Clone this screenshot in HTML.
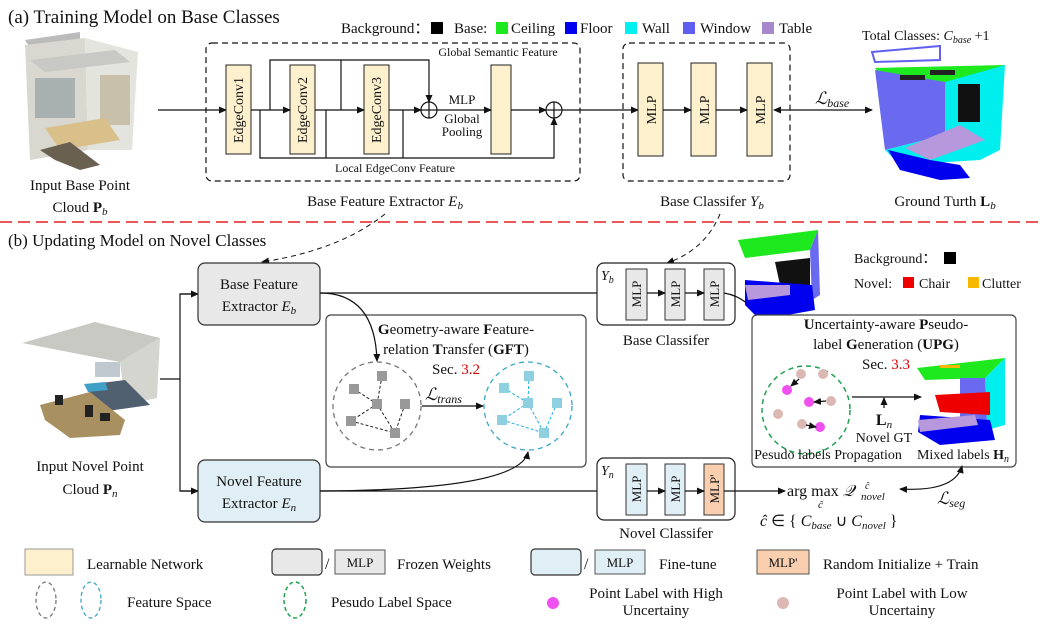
<!DOCTYPE html>
<html><head><meta charset="utf-8"><style>
html,body{margin:0;padding:0;background:#fff}
svg{display:block}
text{font-family:"Liberation Serif",serif;fill:#111}
</style></head><body>
<svg width="1040" height="624" viewBox="0 0 1040 624" xmlns="http://www.w3.org/2000/svg">
<defs>
<marker id="a" markerWidth="8" markerHeight="8" refX="7" refY="4" orient="auto" markerUnits="userSpaceOnUse"><path d="M0,0.5 L8,4 L0,7.5 Z" fill="#111"/></marker>
<marker id="as" markerWidth="8" markerHeight="8" refX="1" refY="4" orient="auto" markerUnits="userSpaceOnUse"><path d="M8,0.5 L0,4 L8,7.5 Z" fill="#111"/></marker>
</defs>

<!-- (a) -->
<text x="8" y="23" font-size="19">(a) Training Model on Base Classes</text>
<g font-size="15">
<text x="341" y="33">Background：</text><rect x="431" y="22" width="12" height="12" fill="#000"/>
<text x="454" y="33">Base:</text><rect x="496" y="22" width="12" height="12" fill="#1ee81e"/>
<text x="511" y="33">Ceiling</text><rect x="565" y="22" width="12" height="12" fill="#0000ee"/>
<text x="580" y="33">Floor</text><rect x="625" y="22" width="12" height="12" fill="#00f0f0"/>
<text x="642" y="33">Wall</text><rect x="683" y="22" width="12" height="12" fill="#6060f0"/>
<text x="700" y="33">Window</text><rect x="762" y="22" width="12" height="12" fill="#a888cc"/>
<text x="779" y="33">Table</text>
</g>

<!-- left point cloud (a) -->
<g>
<polygon points="25,40 80,32 80,40 30,48" fill="#bbb"/>
<polygon points="25,45 85,38 88,150 30,160" fill="#d8d8d0"/>
<polygon points="85,38 138,52 132,150 88,150" fill="#e4e4de"/>
<polygon points="30,60 115,50 130,62 45,72" fill="#c8c8c4"/>
<rect x="35" y="78" width="40" height="40" fill="#a8b0b0"/>
<rect x="100" y="75" width="30" height="50" fill="#c8c0a8"/>
<polygon points="45,128 105,118 120,140 60,150" fill="#d9c08a"/>
<polygon points="40,150 70,142 100,165 80,170 55,160" fill="#6a6050"/>
</g>
<text x="80" y="190" font-size="15" text-anchor="middle">Input Base Point</text>
<text x="80" y="212" font-size="15" text-anchor="middle">Cloud <tspan font-weight="bold">P</tspan><tspan font-size="11" font-style="italic" dy="3">b</tspan></text>
<line x1="158" y1="110" x2="226" y2="110" stroke="#111" stroke-width="1.2" marker-end="url(#a)"/>

<rect x="206" y="43" width="374" height="138" rx="6" fill="none" stroke="#111" stroke-dasharray="6,4" stroke-width="1.2"/>
<g fill="#fdf0cc" stroke="#222" stroke-width="1">
<rect x="226" y="65" width="25" height="89"/>
<rect x="290" y="65" width="25" height="89"/>
<rect x="364" y="65" width="25" height="89"/>
<rect x="491" y="65" width="20" height="89"/>
</g>
<g font-size="14">
<text transform="translate(243,110) rotate(-90)" text-anchor="middle">EdgeConv1</text>
<text transform="translate(307,110) rotate(-90)" text-anchor="middle">EdgeConv2</text>
<text transform="translate(381,110) rotate(-90)" text-anchor="middle">EdgeConv3</text>
</g>
<g stroke="#111" stroke-width="1.2" fill="none">
<line x1="251" y1="110" x2="290" y2="110" marker-end="url(#a)"/>
<line x1="315" y1="110" x2="364" y2="110" marker-end="url(#a)"/>
<line x1="389" y1="110" x2="421" y2="110" marker-end="url(#a)"/>
<circle cx="429" cy="110" r="8"/><line x1="421" y1="110" x2="437" y2="110"/><line x1="429" y1="102" x2="429" y2="118"/>
<line x1="437" y1="110" x2="491" y2="110" marker-end="url(#a)"/>
<line x1="511" y1="110" x2="546" y2="110" marker-end="url(#a)"/>
<circle cx="554" cy="110" r="8"/><line x1="546" y1="110" x2="562" y2="110"/><line x1="554" y1="102" x2="554" y2="118"/>
<polyline points="270,110 270,60 429,60 429,102" marker-end="url(#a)"/>
<line x1="341" y1="60" x2="341" y2="110"/>
<polyline points="260,110 260,158 554,158 554,118" marker-end="url(#a)"/>
<line x1="326" y1="110" x2="326" y2="158"/>
<line x1="403" y1="110" x2="403" y2="158"/>
<line x1="562" y1="110" x2="638" y2="110" marker-end="url(#a)"/>
</g>
<text x="498" y="56" font-size="12" text-anchor="middle">Global Semantic Feature</text>
<text x="462" y="104" font-size="13" text-anchor="middle">MLP</text>
<text x="462" y="123" font-size="13" text-anchor="middle">Global</text>
<text x="462" y="136" font-size="13" text-anchor="middle">Pooling</text>
<text x="395" y="172" font-size="12" text-anchor="middle">Local EdgeConv Feature</text>
<text x="385" y="206" font-size="15" text-anchor="middle">Base Feature Extractor <tspan font-style="italic">E</tspan><tspan font-size="11" font-style="italic" dy="3">b</tspan></text>

<rect x="623" y="43" width="167" height="138" rx="6" fill="none" stroke="#111" stroke-dasharray="6,4" stroke-width="1.2"/>
<g fill="#fdf0cc" stroke="#222"><rect x="638" y="63" width="25" height="93"/><rect x="691" y="63" width="25" height="93"/><rect x="747" y="63" width="25" height="93"/></g>
<g font-size="14"><text transform="translate(656,110) rotate(-90)" text-anchor="middle">MLP</text><text transform="translate(709,110) rotate(-90)" text-anchor="middle">MLP</text><text transform="translate(765,110) rotate(-90)" text-anchor="middle">MLP</text></g>
<g stroke="#111" stroke-width="1.2"><line x1="663" y1="110" x2="691" y2="110" marker-end="url(#a)"/><line x1="716" y1="110" x2="747" y2="110" marker-end="url(#a)"/>
<line x1="774" y1="110" x2="872" y2="110" marker-start="url(#as)" marker-end="url(#a)"/></g>
<text x="815" y="104" font-size="17" font-style="italic">ℒ<tspan font-size="12" dy="3">base</tspan></text>
<text x="712" y="206" font-size="15" text-anchor="middle">Base Classifer <tspan font-style="italic">Y</tspan><tspan font-size="11" font-style="italic" dy="3">b</tspan></text>
<text x="862" y="40" font-size="14">Total Classes: <tspan font-style="italic">C</tspan><tspan font-size="10" font-style="italic" dy="3">base</tspan><tspan dy="-3"> +1</tspan></text>
<!-- right GT cloud -->
<g>
<polygon points="872,52 940,46 940,60 875,62" fill="none" stroke="#6060f0" stroke-width="2"/>
<polygon points="875,68 1005,65 975,85 885,82" fill="#1ee81e"/>
<polygon points="875,70 945,82 945,135 885,150" fill="#6a6af0"/>
<polygon points="945,82 1005,65 1000,150 945,145" fill="#00eeee"/>
<rect x="958" y="84" width="22" height="38" fill="#111"/>
<polygon points="885,150 945,135 1000,150 980,160 900,165" fill="#00eeee"/>
<polygon points="905,148 960,125 985,140 930,160" fill="#b898dc"/>
<polygon points="888,150 930,160 960,165 970,178 940,180 900,170" fill="#0000ee"/>
<rect x="900" y="75" width="25" height="5" fill="#222"/><rect x="930" y="70" width="25" height="5" fill="#222"/>
</g>
<text x="945" y="206" font-size="15" text-anchor="middle">Ground Turth <tspan font-weight="bold">L</tspan><tspan font-size="11" font-style="italic" dy="3">b</tspan></text>

<line x1="0" y1="222" x2="1040" y2="222" stroke="#e02020" stroke-width="1.5" stroke-dasharray="12,6"/>

<!-- (b) -->
<text x="8" y="246" font-size="17">(b) Updating Model on Novel Classes</text>
<g fill="none" stroke="#111" stroke-width="1" stroke-dasharray="5,4">
<path d="M385,214 Q340,250 262,262" marker-end="url(#a)"/>
<path d="M720,214 Q705,250 667,263" marker-end="url(#a)"/>
</g>

<!-- left novel cloud -->
<g>
<polygon points="22,343 95,322 160,338 120,362" fill="#c9c9c4"/>
<polygon points="120,362 160,338 157,398 125,405" fill="#d5d5d0"/>
<rect x="95" y="362" width="25" height="15" fill="#c0c8d0"/>
<polygon points="85,385 125,380 150,405 100,412" fill="#506070"/>
<polygon points="84,384 105,382 108,390 88,392" fill="#40a0c8"/>
<polygon points="40,405 90,392 125,420 120,435 70,438 45,420" fill="#a89060"/>
<rect x="55" y="395" width="8" height="10" fill="#222"/><rect x="85" y="405" width="8" height="12" fill="#222"/><rect x="100" y="413" width="10" height="8" fill="#222"/>
</g>
<text x="90" y="471" font-size="15" text-anchor="middle">Input Novel Point</text>
<text x="90" y="494" font-size="15" text-anchor="middle">Cloud <tspan font-weight="bold">P</tspan><tspan font-size="11" font-style="italic" dy="3">n</tspan></text>
<g stroke="#111" stroke-width="1.2" fill="none">
<line x1="160" y1="379" x2="180" y2="379"/>
<polyline points="198,294 180,294 180,491 198,491"/>
<line x1="180" y1="294" x2="198" y2="294" marker-end="url(#a)"/>
<line x1="180" y1="491" x2="198" y2="491" marker-end="url(#a)"/>
</g>

<rect x="198" y="263" width="122" height="62" rx="7" fill="#e8e8e8" stroke="#333" stroke-width="1.2"/>
<text x="259" y="289" font-size="15" text-anchor="middle">Base Feature</text>
<text x="259" y="311" font-size="15" text-anchor="middle">Extractor <tspan font-style="italic">E</tspan><tspan font-size="11" font-style="italic" dy="3">b</tspan></text>
<rect x="198" y="460" width="122" height="62" rx="7" fill="#dfeff5" stroke="#333" stroke-width="1.2"/>
<text x="259" y="486" font-size="15" text-anchor="middle">Novel Feature</text>
<text x="259" y="508" font-size="15" text-anchor="middle">Extractor <tspan font-style="italic">E</tspan><tspan font-size="11" font-style="italic" dy="3">n</tspan></text>

<!-- GFT -->
<rect x="326" y="315" width="260" height="152" rx="5" fill="#fff" stroke="#444" stroke-width="1.2"/>
<g stroke="#111" stroke-width="1.2" fill="none">
<line x1="320" y1="293" x2="625" y2="293" marker-end="url(#a)"/>
<path d="M320,293 Q375,293 377,361" marker-end="url(#a)"/>
<line x1="320" y1="491" x2="625" y2="491" marker-end="url(#a)"/>
<path d="M320,491 Q520,490 528,452" marker-end="url(#a)"/>
</g>
<text x="456" y="334" font-size="15" text-anchor="middle"><tspan font-weight="bold">G</tspan>eometry-aware <tspan font-weight="bold">F</tspan>eature-</text>
<text x="456" y="354" font-size="15" text-anchor="middle">relation <tspan font-weight="bold">T</tspan>ransfer (<tspan font-weight="bold">GFT</tspan>)</text>
<text x="456" y="374" font-size="15" text-anchor="middle">Sec. <tspan fill="#e00000">3.2</tspan></text>
<circle cx="377" cy="406" r="44" fill="none" stroke="#777" stroke-width="1.3" stroke-dasharray="5,4"/>
<circle cx="528" cy="406" r="44" fill="none" stroke="#38a8c8" stroke-width="1.3" stroke-dasharray="5,4"/>
<g stroke="#222" stroke-dasharray="3,2" stroke-width="1">
<line x1="382" y1="376" x2="377" y2="404"/><line x1="354" y1="389" x2="377" y2="404"/><line x1="377" y1="404" x2="351" y2="421"/><line x1="377" y1="404" x2="395" y2="433"/><line x1="405" y1="404" x2="395" y2="433"/><line x1="351" y1="421" x2="395" y2="433"/>
</g>
<g fill="#999"><rect x="377" y="371" width="10" height="10"/><rect x="349" y="384" width="10" height="10"/><rect x="372" y="399" width="10" height="10"/><rect x="400" y="399" width="10" height="10"/><rect x="346" y="416" width="10" height="10"/><rect x="390" y="428" width="10" height="10"/></g>
<g stroke="#20b0e0" stroke-dasharray="3,2" stroke-width="1">
<line x1="529" y1="376" x2="528" y2="403"/><line x1="504" y1="388" x2="528" y2="403"/><line x1="528" y1="403" x2="502" y2="420"/><line x1="528" y1="403" x2="544" y2="433"/><line x1="557" y1="403" x2="544" y2="433"/><line x1="502" y1="420" x2="544" y2="433"/>
</g>
<g fill="#8ecfe0"><rect x="524" y="371" width="10" height="10"/><rect x="499" y="383" width="10" height="10"/><rect x="523" y="398" width="10" height="10"/><rect x="552" y="398" width="10" height="10"/><rect x="497" y="415" width="10" height="10"/><rect x="539" y="428" width="10" height="10"/></g>
<line x1="422" y1="406" x2="483" y2="406" stroke="#111" stroke-width="1.2" marker-end="url(#a)"/>
<text x="425" y="400" font-size="17" font-style="italic">ℒ<tspan font-size="12" dy="3">trans</tspan></text>

<!-- classifiers (b) -->
<rect x="597" y="263" width="138" height="62" rx="7" fill="#fff" stroke="#222" stroke-width="1.2"/>
<text x="601" y="280" font-size="14" font-style="italic">Y<tspan font-size="10" dy="3">b</tspan></text>
<g fill="#e8e8e8" stroke="#333"><rect x="626" y="269" width="21" height="51"/><rect x="665" y="269" width="20" height="51"/><rect x="704" y="269" width="20" height="51"/></g>
<rect x="597" y="458" width="138" height="62" rx="7" fill="#fff" stroke="#222" stroke-width="1.2"/>
<text x="601" y="475" font-size="14" font-style="italic">Y<tspan font-size="10" dy="3">n</tspan></text>
<g stroke="#333"><rect x="626" y="464" width="21" height="51" fill="#dfeff5"/><rect x="665" y="464" width="20" height="51" fill="#dfeff5"/><rect x="704" y="464" width="20" height="51" fill="#f9cfb0"/></g>
<g font-size="13">
<text transform="translate(641,294) rotate(-90)" text-anchor="middle">MLP</text><text transform="translate(680,294) rotate(-90)" text-anchor="middle">MLP</text><text transform="translate(719,294) rotate(-90)" text-anchor="middle">MLP</text>
<text transform="translate(641,489) rotate(-90)" text-anchor="middle">MLP</text><text transform="translate(680,489) rotate(-90)" text-anchor="middle">MLP</text><text transform="translate(719,489) rotate(-90)" text-anchor="middle">MLP'</text>
</g>
<g stroke="#111" stroke-width="1.2" fill="none">
<line x1="647" y1="293" x2="665" y2="293" marker-end="url(#a)"/><line x1="685" y1="293" x2="704" y2="293" marker-end="url(#a)"/>
<line x1="647" y1="491" x2="665" y2="491" marker-end="url(#a)"/><line x1="685" y1="491" x2="704" y2="491" marker-end="url(#a)"/>
<path d="M724,293 Q765,300 774,363" marker-end="url(#a)"/>
<line x1="724" y1="491" x2="785" y2="491" marker-end="url(#a)"/>
</g>
<text x="666" y="345" font-size="15" text-anchor="middle">Base Classifer</text>
<text x="666" y="538" font-size="15" text-anchor="middle">Novel Classifer</text>

<!-- top-right cloud -->
<g>
<polygon points="738,240 818,230 810,250 745,258" fill="#1ee81e"/>
<polygon points="810,250 818,230 820,295 812,300" fill="#6a6af0"/>
<polygon points="775,262 810,258 810,285 780,285" fill="#111"/>
<polygon points="745,280 812,285 815,310 760,320 745,305" fill="#0000ee"/>
<polygon points="745,285 790,285 790,295 748,300" fill="#b898dc"/>
</g>
<text x="854" y="263" font-size="14">Background：</text><rect x="944" y="252" width="12" height="12" fill="#000"/>
<text x="854" y="288" font-size="14">Novel:</text><rect x="903" y="277" width="11" height="11" fill="#ee0000"/>
<text x="919" y="288" font-size="14">Chair</text><rect x="968" y="277" width="11" height="11" fill="#f8b800"/>
<text x="982" y="288" font-size="14">Clutter</text>

<!-- UPG -->
<rect x="752" y="315" width="264" height="152" rx="5" fill="#fff" stroke="#444" stroke-width="1.2"/>
<text x="886" y="329" font-size="15" text-anchor="middle"><tspan font-weight="bold">U</tspan>ncertainty-aware <tspan font-weight="bold">P</tspan>seudo-</text>
<text x="886" y="349" font-size="15" text-anchor="middle">label <tspan font-weight="bold">G</tspan>eneration (<tspan font-weight="bold">UPG</tspan>)</text>
<text x="886" y="369" font-size="15" text-anchor="middle">Sec. <tspan fill="#e00000">3.3</tspan></text>
<circle cx="806" cy="410" r="44" fill="none" stroke="#20a050" stroke-width="1.5" stroke-dasharray="5,4"/>
<g fill="#dcb8b4"><circle cx="801" cy="374" r="5"/><circle cx="823" cy="374" r="5"/><circle cx="831" cy="401" r="5"/><circle cx="778" cy="414" r="5"/><circle cx="802" cy="424" r="5"/></g>
<g fill="#f050f0"><circle cx="787" cy="390" r="5"/><circle cx="809" cy="402" r="5"/><circle cx="820" cy="427" r="5"/></g>
<g stroke="#111" stroke-width="1.2"><line x1="799" y1="379" x2="791" y2="386" marker-end="url(#a)"/><line x1="826" y1="401" x2="814" y2="402" marker-end="url(#a)"/><line x1="806" y1="425" x2="816" y2="427" marker-end="url(#a)"/>
<line x1="852" y1="397" x2="921" y2="397" marker-end="url(#a)"/><line x1="884" y1="408" x2="884" y2="398" marker-end="url(#a)"/></g>
<text x="884" y="425" font-size="16" font-weight="bold" text-anchor="middle">L<tspan font-size="11" font-weight="normal" font-style="italic" dy="3">n</tspan></text>
<text x="884" y="442" font-size="14" text-anchor="middle">Novel GT</text>
<g>
<polygon points="917,368 1005,358 985,378 925,380" fill="#1ee81e"/>
<rect x="940" y="365" width="20" height="3" fill="#f8b800"/>
<polygon points="985,378 1005,358 1005,425 987,430" fill="#00eeee"/>
<polygon points="960,378 985,378 987,425 960,420" fill="#6a6af0"/>
<polygon points="935,395 990,392 990,415 940,412" fill="#ee0000"/>
<polygon points="920,415 990,420 995,440 940,445 918,432" fill="#0000ee"/>
<polygon points="918,420 975,415 978,425 920,432" fill="#b898dc"/>
</g>
<text x="828" y="459" font-size="14" text-anchor="middle">Pesudo labels Propagation</text>
<text x="963" y="459" font-size="14" text-anchor="middle">Mixed labels <tspan font-weight="bold">H</tspan><tspan font-size="10" font-style="italic" dy="3">n</tspan></text>

<text x="787" y="496" font-size="16">arg max <tspan font-style="italic">𝒬</tspan></text>
<text x="865" y="489" font-size="10" font-style="italic">ĉ</text>
<text x="861" y="500" font-size="11" font-style="italic">novel</text>
<text x="818" y="508" font-size="11" font-style="italic">ĉ</text>
<text x="760" y="526" font-size="16"><tspan font-style="italic">ĉ</tspan> ∈ { <tspan font-style="italic">C</tspan><tspan font-size="11" font-style="italic" dy="3">base</tspan><tspan dy="-3"> ∪ </tspan><tspan font-style="italic">C</tspan><tspan font-size="11" font-style="italic" dy="3">novel</tspan><tspan dy="-3"> }</tspan></text>
<path d="M900,489 Q955,492 962,466" fill="none" stroke="#111" stroke-width="1.2" marker-start="url(#as)" marker-end="url(#a)"/>
<text x="937" y="504" font-size="17" font-style="italic">ℒ<tspan font-size="12" dy="3">seg</tspan></text>

<!-- legend -->
<rect x="25" y="549" width="48" height="26" fill="#fdf0cc" stroke="#999"/>
<text x="87" y="569" font-size="15">Learnable Network</text>
<rect x="272" y="549" width="50" height="26" rx="4" fill="#e8e8e8" stroke="#333" stroke-width="1.2"/>
<text x="325" y="569" font-size="16">/</text>
<rect x="335" y="550" width="50" height="24" fill="#e8e8e8" stroke="#555"/><text x="360" y="567" font-size="13" text-anchor="middle">MLP</text>
<text x="397" y="569" font-size="15">Frozen Weights</text>
<rect x="531" y="549" width="50" height="26" rx="4" fill="#dfeff5" stroke="#333" stroke-width="1.2"/>
<text x="584" y="569" font-size="16">/</text>
<rect x="595" y="550" width="50" height="24" fill="#dfeff5" stroke="#555"/><text x="620" y="567" font-size="13" text-anchor="middle">MLP</text>
<text x="659" y="569" font-size="15">Fine-tune</text>
<rect x="757" y="550" width="52" height="24" fill="#f9cfb0" stroke="#555"/><text x="783" y="567" font-size="13" text-anchor="middle">MLP'</text>
<text x="823" y="569" font-size="15">Random Initialize + Train</text>

<ellipse cx="46" cy="600" rx="10" ry="18" fill="none" stroke="#777" stroke-width="1.3" stroke-dasharray="4,3"/>
<ellipse cx="91" cy="600" rx="10" ry="18" fill="none" stroke="#38a8c8" stroke-width="1.3" stroke-dasharray="4,3"/>
<text x="127" y="607" font-size="15">Feature Space</text>
<ellipse cx="295" cy="600" rx="11" ry="18" fill="none" stroke="#20a050" stroke-width="1.5" stroke-dasharray="4,3"/>
<text x="331" y="607" font-size="15">Pesudo Label Space</text>
<circle cx="553" cy="603" r="6" fill="#f050f0"/>
<text x="656" y="598" font-size="15" text-anchor="middle">Point Label with High</text>
<text x="656" y="615" font-size="15" text-anchor="middle">Uncertainy</text>
<circle cx="783" cy="603" r="6" fill="#dcb8b4"/>
<text x="902" y="598" font-size="15" text-anchor="middle">Point Label with Low</text>
<text x="902" y="615" font-size="15" text-anchor="middle">Uncertainy</text>
</svg>
</body></html>
